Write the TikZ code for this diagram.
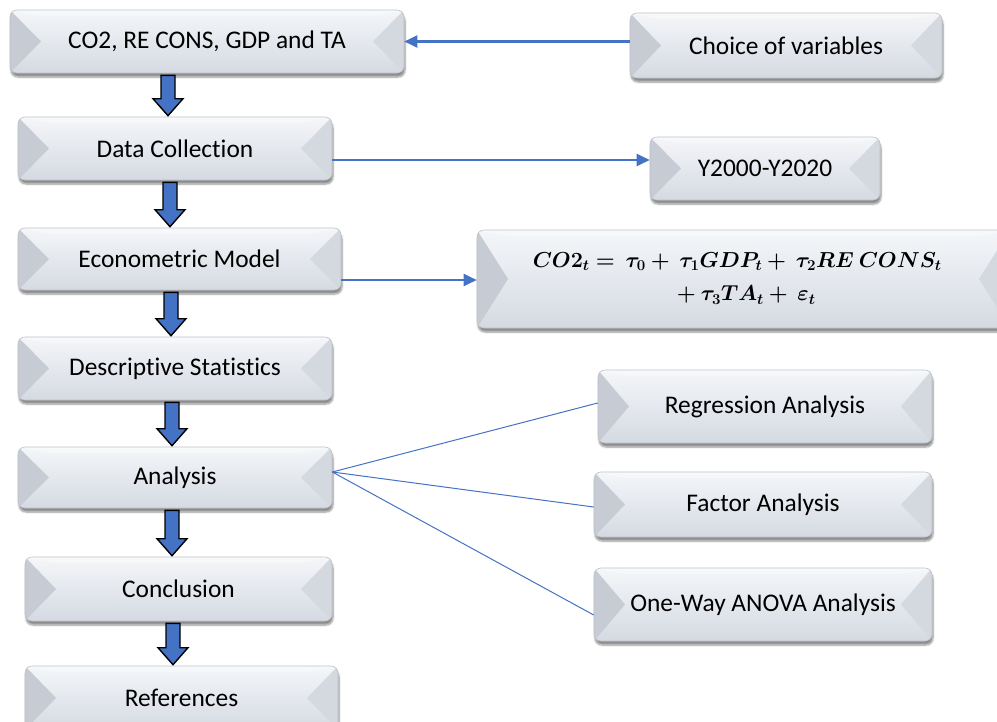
\documentclass[tikz,border=0pt]{standalone}
\usepackage{fontspec}
\setmainfont{Carlito}[Ligatures=NoCommon]
\usepackage{amsmath,bm,graphicx}
\usetikzlibrary{arrows.meta,calc,shadows.blur}

\definecolor{flowblue}{HTML}{4472C4}
\definecolor{facetop}{HTML}{F4F6F9}
\definecolor{facemid}{HTML}{DDE2E9}
\definecolor{facebot}{HTML}{D5DAE2}
\definecolor{bevleft}{HTML}{C7CCD4}
\definecolor{bevright}{HTML}{D4D8DF}
\definecolor{bevedge}{HTML}{BCC1CA}

\tikzset{
  bevbox/.style={
    rounded corners=7pt, draw=bevedge, line width=0.6pt,
    top color=facetop, middle color=facemid, bottom color=facebot,
    blur shadow={shadow xshift=1pt, shadow yshift=-4pt, shadow blur steps=6, shadow opacity=45},
    inner sep=0pt, text=black, font=\fontsize{25.4}{30}\selectfont,
    path picture={
      \fill[bevleft, sharp corners]
        (path picture bounding box.north west) --
        ([xshift=31pt]path picture bounding box.west) --
        (path picture bounding box.south west) -- cycle;
      \fill[bevright, sharp corners]
        (path picture bounding box.north east) --
        ([xshift=-31pt]path picture bounding box.east) --
        (path picture bounding box.south east) -- cycle;
      \fill[white, opacity=0.35, sharp corners]
        (path picture bounding box.north west) --
        ([xshift=31pt,yshift=-6pt]path picture bounding box.north west) --
        ([xshift=-31pt,yshift=-6pt]path picture bounding box.north east) --
        (path picture bounding box.north east) -- cycle;
    }
  },
  conn/.style={draw=flowblue, line width=2.2pt, -{Triangle[length=13pt,width=12pt]}},
  fan/.style={draw=flowblue, line width=1pt},
  blkarrow/.style={fill=flowblue, draw=black, line width=1.4pt, line join=miter}
}

% block arrow pointing down from the bottom of #2 to the top of #3 at x = #1
\newcommand\flowarrow[3]{%
  \draw[blkarrow] let \p1=(#2.south), \p2=(#3.north), \p3=(#1,0) in
    (\x3-7pt,\y1-2pt) -- (\x3+7pt,\y1-2pt) -- (\x3+7pt,\y2+18pt) --
    (\x3+15pt,\y2+18pt) -- (\x3,\y2+1pt) -- (\x3-15pt,\y2+18pt) --
    (\x3-7pt,\y2+18pt) -- cycle;}

\begin{document}
\begin{tikzpicture}[x=1pt, y=-1pt]
\clip (0,0) rectangle (997,721);

% main column
\node[bevbox, minimum width=394pt, minimum height=63pt] (vars)  at (207,41.5) {CO2, RE CONS, GDP and TA};
\node[bevbox, minimum width=314pt, minimum height=63pt] (data)  at (175,148.5) {Data Collection};
\node[bevbox, minimum width=323pt, minimum height=62pt] (model) at (179.5,259) {Econometric Model};
\node[bevbox, minimum width=314pt, minimum height=63pt] (desc)  at (175,368.5) {Descriptive Statistics};
\node[bevbox, minimum width=314pt, minimum height=61pt] (anal)  at (175,477.5) {Analysis};
\node[bevbox, minimum width=307pt, minimum height=64pt] (concl) at (178.5,589) {Conclusion};
\node[bevbox, minimum width=313pt, minimum height=64pt] (refs)  at (181.5,698) {References};

% side boxes
\node[bevbox, minimum width=312pt, minimum height=65pt] (choice) at (786,45.5) {Choice of variables};
\node[bevbox, minimum width=230pt, minimum height=63pt] (years)  at (765,168.5) {Y2000-Y2020};
\node[bevbox, minimum width=533pt, minimum height=98pt,
      font=\fontsize{20.74}{25}\selectfont] (eqn) at (743.5,279)
  {\scalebox{1.045}{\begin{tabular}{@{}l@{}}
     $\bm{CO2_t =\ \tau_0 +\ \tau_1 GDP_t + \ \tau_2 RE\ CONS_t}$\hspace*{12pt}\\[7pt]
     \hspace*{138pt}$\bm{+\ \tau_3 TA_t +\ \varepsilon_t}$
   \end{tabular}}};
\node[bevbox, minimum width=334pt, minimum height=73pt] (regr)  at (765,406.5) {Regression Analysis};
\node[bevbox, minimum width=338pt, minimum height=65pt] (factor) at (763,504.5) {Factor Analysis};
\node[bevbox, minimum width=338pt, minimum height=73pt] (anova) at (763,604.5) {One-Way ANOVA Analysis};

% connectors to the side boxes
\draw[conn] (choice.west |- vars.east) -- (vars.east);
\draw[conn] (data.east |- 0,160) -- (years.west |- 0,160);
\draw[conn] (model.east |- 0,280) -- (eqn.west |- 0,280);

% analysis fan-out
\coordinate (fanroot) at (anal.east |- 0,472);
\draw[fan] (fanroot) -- (regr.west |- 0,403);
\draw[fan] (fanroot) -- (factor.west |- 0,507);
\draw[fan] (fanroot) -- (anova.west |- 0,615);

% block arrows down the main column
\flowarrow{168}{vars}{data}
\flowarrow{170}{data}{model}
\flowarrow{171}{model}{desc}
\flowarrow{172}{desc}{anal}
\flowarrow{172}{anal}{concl}
\flowarrow{173}{concl}{refs}
\end{tikzpicture}
\end{document}
